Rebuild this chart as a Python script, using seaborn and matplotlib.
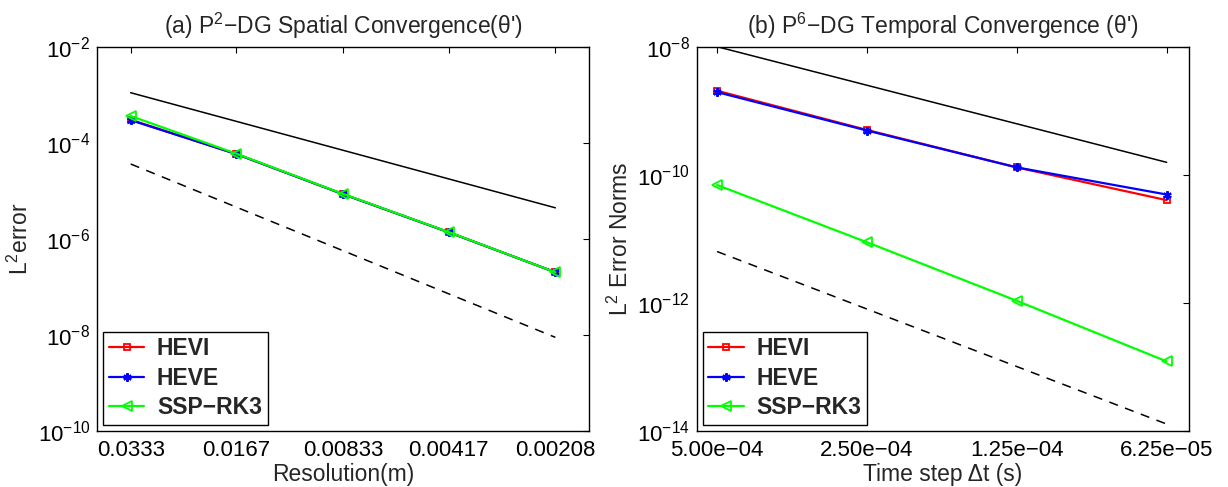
import numpy as np
import pandas as pd
import matplotlib
matplotlib.use("Agg")
import matplotlib.pyplot as plt
import seaborn as sns
from matplotlib.ticker import NullLocator, FixedLocator, LogFormatterSciNotation

# ---------------- data ----------------
# (a) spatial convergence
res_x = [0.0333, 0.0167, 0.00833, 0.00417, 0.00208]
res_labels = ["0.0333", "0.0167", "0.00833", "0.00417", "0.00208"]
a_hevi = [3.0e-4, 5.8e-5, 8.5e-6, 1.36e-6, 2.0e-7]
a_heve = [2.95e-4, 5.8e-5, 8.5e-6, 1.36e-6, 2.0e-7]
a_ssp = [3.6e-4, 5.9e-5, 8.6e-6, 1.37e-6, 2.0e-7]
a_ref_x = [0.0333, 0.00208]
a_ref2 = [1.10e-3, 4.4e-6]     # solid reference (2nd order)
a_ref3 = [3.6e-5, 8.8e-9]      # dashed reference (3rd order)

# (b) temporal convergence
dt_x = [5.0e-4, 2.5e-4, 1.25e-4, 6.25e-5]
dt_labels = ["5.00e\u221204", "2.50e\u221204", "1.25e\u221204", "6.25e\u221205"]
b_hevi = [2.05e-9, 5.0e-10, 1.30e-10, 4.0e-11]
b_heve = [1.95e-9, 4.9e-10, 1.30e-10, 4.9e-11]
b_ssp = [6.9e-11, 8.8e-12, 1.07e-12, 1.21e-13]
b_ref_x = [5.0e-4, 6.25e-5]
b_ref2 = [1.0e-8, 1.56e-10]
b_ref3 = [6.3e-12, 1.27e-14]

series_names = ["HEVI", "HEVE", "SSP\u2212RK3"]

# ---------------- style ----------------
sns.set_style("white")
plt.rcParams["font.family"] = ["Liberation Sans", "DejaVu Sans"]
plt.rcParams["mathtext.default"] = "regular"
plt.rcParams["axes.unicode_minus"] = True
FS = 16.5
TFS = 16

fig = plt.figure(figsize=(12.28, 4.87), dpi=100)
ax1 = fig.add_axes([97.3 / 1228, 1 - 430.7 / 487, (589 - 97.3) / 1228, 384 / 487])
ax2 = fig.add_axes([697 / 1228, 1 - 430.7 / 487, (1189 - 697) / 1228, 384 / 487])

styles = {
    "HEVI": dict(color=(1, 0, 0), marker="s", markersize=5, markerfacecolor="none",
                 markeredgecolor=(1, 0, 0), markeredgewidth=1.3),
    "HEVE": dict(color=(0, 0, 1), marker=(6, 2, 0), markersize=6,
                 markeredgecolor=(0, 0, 1), markeredgewidth=1.6),
    "SSP\u2212RK3": dict(color=(0, 1, 0), marker="<", markersize=7, markerfacecolor="none",
                         markeredgecolor=(0, 1, 0), markeredgewidth=1.3),
}


def draw(ax, xs, data, refx, ref2, ref3):
    sns.lineplot(x=refx, y=ref2, ax=ax, color="black", linewidth=1.1, legend=False,
                 estimator=None, sort=False)
    sns.lineplot(x=refx, y=ref3, ax=ax, color="black", linewidth=1.1, legend=False,
                 estimator=None, sort=False, linestyle=(0, (6, 5)))
    for name, vals in zip(series_names, data):
        sns.lineplot(x=xs, y=vals, ax=ax, linewidth=1.6, label=name,
                     estimator=None, sort=False, **styles[name])


draw(ax1, res_x, [a_hevi, a_heve, a_ssp], a_ref_x, a_ref2, a_ref3)
draw(ax2, dt_x, [b_hevi, b_heve, b_ssp], b_ref_x, b_ref2, b_ref3)

for ax, xs, labels, lm, rm, yt in [
    (ax1, res_x, res_labels, 0.3145, 0.317, [1e-2, 1e-4, 1e-6, 1e-8, 1e-10]),
    (ax2, dt_x, dt_labels, 0.134, 0.149, [1e-8, 1e-10, 1e-12, 1e-14]),
]:
    ax.set_xscale("log", base=2)
    ax.set_yscale("log")
    ax.set_xlim(xs[0] * 2 ** lm, xs[-1] * 2 ** (-rm))
    ax.set_ylim(min(yt), max(yt))
    ax.xaxis.set_major_locator(FixedLocator(xs))
    ax.set_xticklabels(labels)
    ax.xaxis.set_minor_locator(NullLocator())
    ax.yaxis.set_major_locator(FixedLocator(yt))
    ax.yaxis.set_major_formatter(LogFormatterSciNotation())
    ax.yaxis.set_minor_locator(NullLocator())
    ax.tick_params(direction="in", top=True, right=True, length=4, width=0.8,
                   labelsize=TFS, colors="black")
    ax.tick_params(axis="x", pad=6.5)
    ax.tick_params(axis="y", pad=5)
    for s in ax.spines.values():
        s.set_visible(True)
        s.set_color("black")
        s.set_linewidth(1.0)
    ax.grid(False)
    leg = ax.legend(loc="lower left", frameon=True, fancybox=False,
                    prop={"weight": "bold", "size": FS}, handlelength=1.55,
                    handletextpad=0.55, borderpad=0.25, labelspacing=0.28,
                    borderaxespad=0.25, numpoints=1)
    leg.get_frame().set_edgecolor("black")
    leg.get_frame().set_linewidth(1.0)
    leg.get_frame().set_alpha(1)

ax1.set_title("(a) P$^2$\u2212DG Spatial Convergence(\u03b8')", fontsize=FS, pad=9)
ax2.set_title("(b) P$^6$\u2212DG Temporal Convergence (\u03b8')", fontsize=FS, pad=9)
ax1.set_xlabel("Resolution(m)", fontsize=FS)
ax2.set_xlabel("Time step \u0394t (s)", fontsize=FS)
ax1.set_ylabel("L$^2$error", fontsize=FS)
ax2.set_ylabel("L$^2$ Error Norms", fontsize=FS)
for ax in (ax1, ax2):
    ax.xaxis.set_label_coords(0.5, -0.083)
    ax.xaxis.label.set_va("top")
    ax.yaxis.set_label_coords(-0.13, 0.5)

fig.savefig("out.png", dpi=100, facecolor="white")
